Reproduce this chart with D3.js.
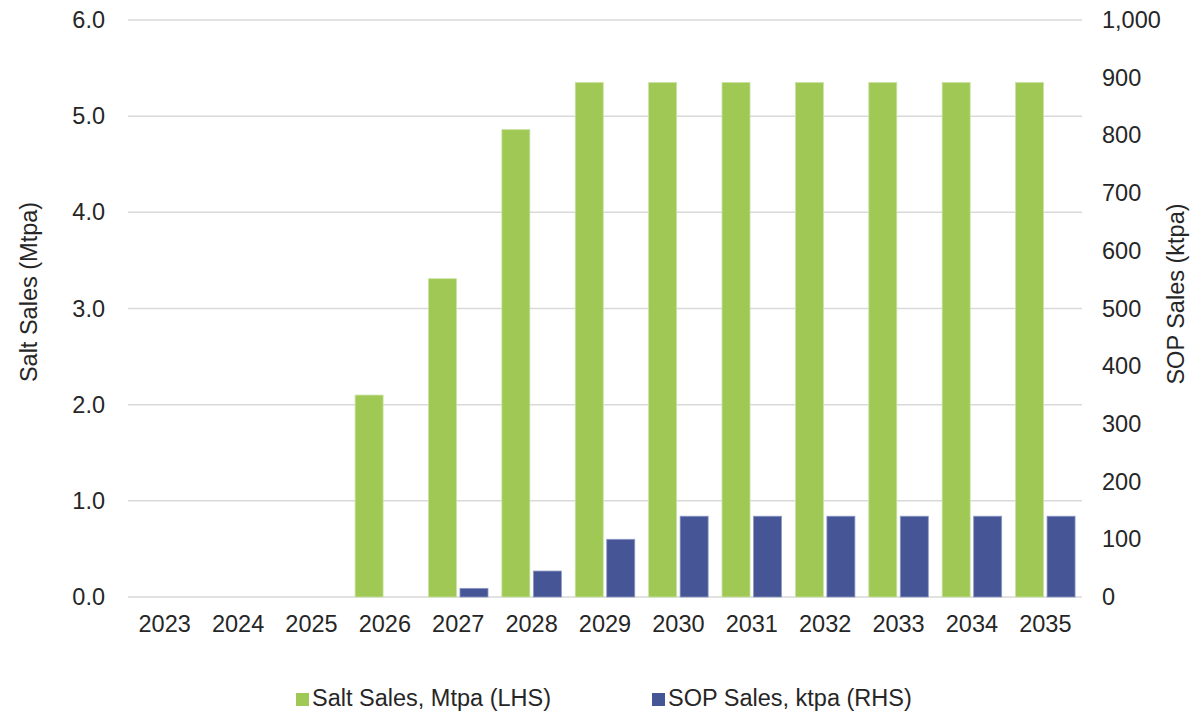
<!DOCTYPE html>
<html>
<head>
<meta charset="utf-8">
<script src="https://cdnjs.cloudflare.com/ajax/libs/d3/7.8.5/d3.min.js"></script>
<style>
	body{margin:0;background:#fff;}
	text{font-family:"Liberation Sans",Arial,sans-serif;fill:#262626;}
</style>
</head>
<body>
<div id="chart-div"></div>
<script>
var years=["2023","2024","2025","2026","2027","2028","2029","2030","2031","2032","2033","2034","2035"];
var saltSales=[0,0,0,2.1,3.31,4.86,5.35,5.35,5.35,5.35,5.35,5.35,5.35];
var sopSales=[0,0,0,0,15,45,100,140,140,140,140,140,140];
var leftTicks=[0,1,2,3,4,5,6];
var rightTicks=[0,100,200,300,400,500,600,700,800,900,1000];
var seriesNames=["Salt Sales, Mtpa (LHS)","SOP Sales, ktpa (RHS)"];
var colorArr=["#9fc855","#455595"];

var width=1204, height=713;
var padding={left:128,right:122,top:20,bottom:116};
var fontSize="23.5px";

var svg=d3.select("#chart-div").append("svg")
	.attr("width",width).attr("height",height);

var x_scale=d3.scaleBand().domain(years)
	.range([padding.left,width-padding.right]);
var y_left=d3.scaleLinear().domain([0,6]).range([height-padding.bottom,padding.top]);
var y_right=d3.scaleLinear().domain([0,1000]).range([height-padding.bottom,padding.top]);

// 网格线
svg.append("g").selectAll("line")
	.data(leftTicks)
	.enter().append("line")
	.attr("x1",padding.left).attr("x2",width-padding.right)
	.attr("y1",function(d){return y_left(d);})
	.attr("y2",function(d){return y_left(d);})
	.attr("stroke","#d9d9d9").attr("stroke-width",1.5);

var barW=28, gap=3.5;
var groupOff=(x_scale.bandwidth()-(barW*2+gap))/2;

svg.append("g").selectAll("rect")
	.data(saltSales)
	.enter().append("rect")
	.attr("x",function(d,i){return x_scale(years[i])+groupOff;})
	.attr("y",function(d){return y_left(d);})
	.attr("width",barW)
	.attr("height",function(d){return y_left(0)-y_left(d);})
	.attr("fill",colorArr[0])
	.attr("stroke","#c9e3a3").attr("stroke-width",0.8)
	.style("display",function(d){return d>0?null:"none";});

svg.append("g").selectAll("rect")
	.data(sopSales)
	.enter().append("rect")
	.attr("x",function(d,i){return x_scale(years[i])+groupOff+barW+gap;})
	.attr("y",function(d){return y_right(d);})
	.attr("width",barW)
	.attr("height",function(d){return y_right(0)-y_right(d);})
	.attr("fill",colorArr[1])
	.attr("stroke","#8d98c2").attr("stroke-width",0.8)
	.style("display",function(d){return d>0?null:"none";});

// 坐标轴
var fmtL=d3.format(".1f"), fmtR=d3.format(",");
var leftAxis=svg.append("g")
	.attr("transform","translate("+(padding.left-23)+",0)")
	.call(d3.axisLeft(y_left).tickValues(leftTicks).tickFormat(fmtL).tickSize(0));
var rightAxis=svg.append("g")
	.attr("transform","translate("+(width-padding.right+20)+",0)")
	.call(d3.axisRight(y_right).tickValues(rightTicks).tickFormat(fmtR).tickSize(0));
var bottomAxis=svg.append("g")
	.attr("transform","translate(0,"+(height-padding.bottom+15)+")")
	.call(d3.axisBottom(x_scale).tickSize(0));
[leftAxis,rightAxis,bottomAxis].forEach(function(a){
	a.select(".domain").remove();
	a.selectAll("text").style("font-size",fontSize)
		.style("font-family","'Liberation Sans',Arial,sans-serif").attr("fill","#262626");
});
leftAxis.selectAll("text").attr("x",0);
rightAxis.selectAll("text").attr("x",0);

svg.append("text")
	.attr("transform","translate(37,292) rotate(-90)")
	.attr("text-anchor","middle")
	.style("font-size",fontSize)
	.text("Salt Sales (Mtpa)");
svg.append("text")
	.attr("transform","translate(1184,294) rotate(-90)")
	.attr("text-anchor","middle")
	.style("font-size",fontSize)
	.text("SOP Sales (ktpa)");

// 图例
var legendX=[296,652];
var legend=svg.append("g").selectAll("g")
	.data(seriesNames)
	.enter().append("g")
	.attr("transform",function(d,i){return "translate("+legendX[i]+",693)";});
legend.append("rect")
	.attr("x",0).attr("y",0).attr("width",13).attr("height",13)
	.attr("fill",function(d,i){return colorArr[i];});
legend.append("text")
	.attr("x",16).attr("y",12.5)
	.style("font-size",fontSize)
	.text(function(d){return d;});
</script>
</body>
</html>
